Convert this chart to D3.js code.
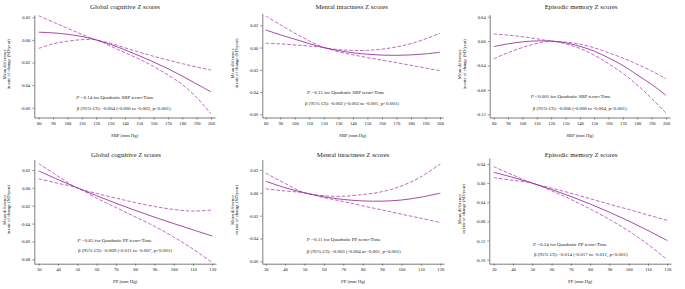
<!DOCTYPE html>
<html>
<head>
<meta charset="utf-8">
<script src="https://cdn.jsdelivr.net/npm/d3@7/dist/d3.min.js"></script>
<style>
  body { margin: 0; background: #fff; }
  svg { display: block; font-family: "Liberation Serif", "Times New Roman", serif; }
</style>
</head>
<body>
<script>
const width = 685, height = 289;

// x values (mm Hg)
const sbp = [80, 90, 100, 110, 120, 130, 140, 150, 160, 170, 180, 190, 200];
const pp = [30, 40, 50, 60, 70, 80, 90, 100, 110, 120];

// Global cognitive, SBP
const gcSbpEst = [0.0068, 0.0062, 0.005, 0.003, 0, -0.004, -0.0088, -0.014, -0.0195, -0.0255, -0.032, -0.039, -0.046];
const gcSbpUp = [0.0214, 0.0158, 0.0103, 0.005, 0, -0.003, -0.007, -0.0108, -0.0145, -0.0178, -0.021, -0.024, -0.0267];
const gcSbpLo = [-0.0075, -0.0035, -0.0012, 0.0002, 0, -0.0055, -0.0112, -0.017, -0.0235, -0.031, -0.0395, -0.051, -0.0655];

// Mental intactness, SBP
const miSbpEst = [0.0158, 0.0115, 0.0075, 0.0035, 0, -0.0027, -0.0047, -0.006, -0.0068, -0.007, -0.0066, -0.0057, -0.0042];
const miSbpUp = [0.0283, 0.0205, 0.013, 0.006, 0, -0.0018, -0.0026, -0.0025, -0.0014, 0.0005, 0.0035, 0.0078, 0.0128];
const miSbpLo = [0.0039, 0.0033, 0.0024, 0.0013, 0, -0.0038, -0.0065, -0.009, -0.0113, -0.0136, -0.016, -0.0184, -0.0208];

// Episodic memory, SBP
const emSbpEst = [-0.009, -0.0045, -0.0012, 0.0003, 0, -0.0028, -0.0085, -0.0165, -0.0275, -0.04, -0.0555, -0.071, -0.089];
const emSbpUp = [0.0116, 0.0098, 0.0072, 0.0038, 0, -0.0015, -0.005, -0.011, -0.019, -0.028, -0.038, -0.049, -0.062];
const emSbpLo = [-0.0288, -0.019, -0.0105, -0.004, 0, -0.0045, -0.012, -0.023, -0.037, -0.053, -0.072, -0.094, -0.118];

// Global cognitive, PP
const gcPpEst = [0.019, 0.0093, 0, -0.0088, -0.0172, -0.0252, -0.0328, -0.04, -0.047, -0.054];
const gcPpUp = [0.0272, 0.0132, 0, -0.0062, -0.0115, -0.0165, -0.0208, -0.0242, -0.026, -0.0248];
const gcPpLo = [0.0102, 0.005, 0, -0.0115, -0.022, -0.0325, -0.043, -0.055, -0.0685, -0.0838];

// Mental intactness, PP
const miPpEst = [0.0102, 0.0045, 0, -0.0035, -0.0058, -0.0071, -0.0073, -0.0063, -0.0038, -0.0003];
const miPpUp = [0.0172, 0.0082, 0, -0.0025, -0.003, -0.0015, 0.001, 0.006, 0.014, 0.0254];
const miPpLo = [0.0035, 0.0016, 0, -0.0042, -0.0076, -0.0114, -0.015, -0.0187, -0.0223, -0.026];

// Episodic memory, PP
const emPpEst = [0.0226, 0.012, 0, -0.0133, -0.0278, -0.0436, -0.0608, -0.0792, -0.099, -0.12];
const emPpUp = [0.0344, 0.017, 0, -0.0105, -0.021, -0.0325, -0.044, -0.055, -0.0665, -0.0778];
const emPpLo = [0.0114, 0.0058, 0, -0.016, -0.034, -0.054, -0.076, -0.1, -0.128, -0.16];

// ticks
const sbpTicks = [80, 90, 100, 110, 120, 130, 140, 150, 160, 170, 180, 190, 200];
const ppTicks = [30, 40, 50, 60, 70, 80, 90, 100, 110, 120];
const ticks02to06 = [0.02, 0, -0.02, -0.04, -0.06];
const ticks02to08 = [0.02, 0, -0.02, -0.04, -0.06, -0.08];
const ticks04to12 = [0.04, 0, -0.04, -0.08, -0.12];
const ticks04to16 = [0.04, 0, -0.04, -0.08, -0.12, -0.16];

const titles = ["Global cognitive Z scores", "Mental intactness Z scores", "Episodic memory Z scores"];
const pTerms = ["=0.14", "=0.15", "<0.001", "=0.65", "=0.11", "=0.24"];
const betas = [
  "β (95% CI): -0.004 (-0.006 to -0.003, p<0.001)",
  "β (95% CI): -0.002 (-0.003 to -0.001, p<0.001)",
  "β (95% CI): -0.006 (-0.008 to -0.004, p<0.001)",
  "β (95% CI): -0.009 (-0.011 to -0.007, p<0.001)",
  "β (95% CI): -0.003 (-0.004 to -0.001, p=0.001)",
  "β (95% CI): -0.014 (-0.017 to -0.011, p<0.001)"
];

const panels = [
  { xs: sbp, est: gcSbpEst, up: gcSbpUp, lo: gcSbpLo, xTicks: sbpTicks, yTicks: ticks02to06, term: "SBP",
    box: { left: 34.3, right: 215, top: 15, bottom: 117.5, xPx: [38.7, 211], yPx: [17.3, 107.7], title: [125, 6.7], n1: [115, 97.7], n2: [123.8, 108.3] } },
  { xs: sbp, est: miSbpEst, up: miSbpUp, lo: miSbpLo, xTicks: sbpTicks, yTicks: ticks02to06, term: "SBP",
    box: { left: 262.3, right: 443, top: 13.3, bottom: 117.5, xPx: [265.7, 440], yPx: [25.3, 114.3], title: [351.7, 6.3], n1: [345.8, 92.3], n2: [352, 103.3] } },
  { xs: sbp, est: emSbpEst, up: emSbpUp, lo: emSbpLo, xTicks: sbpTicks, yTicks: ticks04to12, term: "SBP",
    box: { left: 489.7, right: 670, top: 14.7, bottom: 117.5, xPx: [493.7, 666], yPx: [16.7, 114.3], title: [581, 6.7], n1: [570.8, 96], n2: [579.8, 108.3] } },
  { xs: pp, est: gcPpEst, up: gcPpUp, lo: gcPpLo, xTicks: ppTicks, yTicks: ticks02to08, term: "PP",
    box: { left: 34.3, right: 216, top: 159.5, bottom: 263.7, xPx: [38.7, 212.3], yPx: [170, 259.3], title: [126, 155], n1: [114.7, 240], n2: [125, 250] } },
  { xs: pp, est: miPpEst, up: miPpUp, lo: miPpLo, xTicks: ppTicks, yTicks: ticks02to06, term: "PP",
    box: { left: 262.3, right: 444, top: 159.7, bottom: 263.7, xPx: [265.7, 440.3], yPx: [170, 261.3], title: [353, 154.5], n1: [343.8, 239], n2: [353.7, 251] } },
  { xs: pp, est: emPpEst, up: emPpUp, lo: emPpLo, xTicks: ppTicks, yTicks: ticks04to16, term: "PP",
    box: { left: 489.3, right: 671, top: 158, bottom: 263.7, xPx: [493.7, 667.3], yPx: [164, 259.7], title: [581, 154.5], n1: [570, 244.7], n2: [580.8, 254] } }
];

const solidColor = "#96289b", dashColor = "#b043b6", axisColor = "#444";

const svg = d3.select("body").append("svg")
    .attr("width", width)
    .attr("height", height);

panels.forEach((p, i) => {
  const b = p.box;
  const g = svg.append("g");

  const xs0 = d3.scaleLinear().domain([p.xTicks[0], p.xTicks[p.xTicks.length - 1]]).range(b.xPx);
  const x = d3.scaleLinear().domain([xs0.invert(b.left), xs0.invert(b.right)]).range([b.left, b.right]);
  const ys0 = d3.scaleLinear().domain([p.yTicks[0], p.yTicks[p.yTicks.length - 1]]).range(b.yPx);
  const y = d3.scaleLinear().domain([ys0.invert(b.bottom), ys0.invert(b.top)]).range([b.bottom, b.top]);

  const xAxis = g.append("g")
      .attr("transform", `translate(0,${b.bottom})`)
      .call(d3.axisBottom(x).tickValues(p.xTicks).tickSize(2).tickSizeOuter(0).tickPadding(2).tickFormat(d => d));
  const yAxis = g.append("g")
      .attr("transform", `translate(${b.left},0)`)
      .call(d3.axisLeft(y).tickValues(p.yTicks).tickSize(2).tickSizeOuter(0).tickPadding(2).tickFormat(d => d.toFixed(2)));

  [xAxis, yAxis].forEach(a => {
    a.select(".domain").attr("stroke", axisColor).attr("stroke-width", 0.7);
    a.selectAll(".tick line").attr("stroke", axisColor).attr("stroke-width", 0.6);
    a.selectAll(".tick text").attr("font-size", 4.6).attr("fill", "#222").attr("font-family", "Liberation Serif");
  });

  const line = d3.line()
      .x((d, k) => x(p.xs[k]))
      .y(d => y(d))
      .curve(d3.curveCatmullRom.alpha(0.5));

  g.append("path").attr("d", line(p.up)).attr("fill", "none")
      .attr("stroke", dashColor).attr("stroke-width", 0.8).attr("stroke-dasharray", "3.6,1.8");
  g.append("path").attr("d", line(p.lo)).attr("fill", "none")
      .attr("stroke", dashColor).attr("stroke-width", 0.8).attr("stroke-dasharray", "3.6,1.8");
  g.append("path").attr("d", line(p.est)).attr("fill", "none")
      .attr("stroke", solidColor).attr("stroke-width", 0.85);

  // title
  g.append("text")
      .attr("x", b.title[0]).attr("y", b.title[1] + 2.3)
      .attr("text-anchor", "middle").attr("font-size", 6.8).attr("fill", "#222")
      .text(titles[i % 3]);

  // x axis label
  g.append("text")
      .attr("x", (b.left + b.right) / 2).attr("y", b.bottom + 19)
      .attr("text-anchor", "middle").attr("font-size", 4.8).attr("fill", "#222")
      .text(`${p.term} (mm Hg)`);

  // y axis label, two lines
  const cy = (b.top + b.bottom) / 2 - 2;
  const yl = g.append("text")
      .attr("transform", `translate(${b.left - 28.3},${cy}) rotate(-90)`)
      .attr("text-anchor", "middle").attr("font-size", 4.6).attr("fill", "#222");
  yl.append("tspan").attr("x", 0).attr("y", 0).text("Mean difference");
  yl.append("tspan").attr("x", 0).attr("y", 4.4).text("in rate of change (SD/year)");

  // annotations
  const n1 = g.append("text")
      .attr("x", b.n1[0]).attr("y", b.n1[1] + 1.7)
      .attr("text-anchor", "middle").attr("font-size", 5).attr("fill", "#222");
  n1.append("tspan").attr("font-style", "italic").text("P");
  n1.append("tspan").text(` ${pTerms[i]} for Quadratic ${p.term} term×Time`);

  g.append("text")
      .attr("x", b.n2[0]).attr("y", b.n2[1] + 1.7)
      .attr("text-anchor", "middle").attr("font-size", 5).attr("fill", "#222")
      .text(betas[i]);
});
</script>
</body>
</html>
